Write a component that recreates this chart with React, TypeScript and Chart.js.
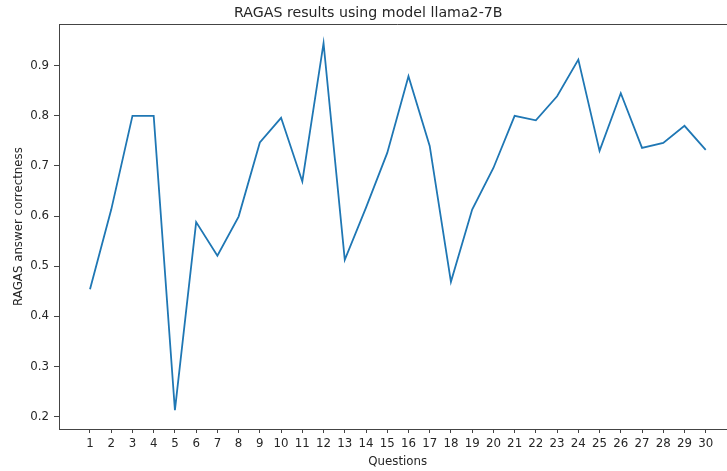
import React, { useEffect, useRef } from "react";
import { Chart, registerables } from "chart.js";

Chart.register(...registerables);

const questions: number[] = [1,2,3,4,5,6,7,8,9,10,11,12,13,14,15,16,17,18,19,20,21,22,23,24,25,26,27,28,29,30];
const correctness: number[] = [
  0.454, 0.613, 0.800, 0.800, 0.213, 0.588, 0.521, 0.599, 0.747, 0.796,
  0.669, 0.945, 0.513, 0.617, 0.726, 0.879, 0.740, 0.469, 0.613, 0.696,
  0.800, 0.791, 0.839, 0.912, 0.730, 0.845, 0.736, 0.746, 0.780, 0.732,
];
const yTicks: number[] = [0.2, 0.3, 0.4, 0.5, 0.6, 0.7, 0.8, 0.9];
const xTicks: number[] = questions;

const TITLE = "RAGAS results using model llama2-7B";
const X_TITLE = "Questions";
const Y_TITLE = "RAGAS answer correctness";

const FONT = "'DejaVu Sans', Verdana, sans-serif";
const TEXT = "#262626";
const SPINE = "#444444";

const framePlugin = {
  id: "frameTop",
  afterDraw(chart: any) {
    const { ctx, chartArea } = chart;
    ctx.save();
    ctx.strokeStyle = SPINE;
    ctx.lineWidth = 1;
    ctx.beginPath();
    ctx.moveTo(chartArea.left, Math.round(chartArea.top) + 0.5);
    ctx.lineTo(chartArea.right, Math.round(chartArea.top) + 0.5);
    ctx.stroke();
    ctx.restore();
  },
};

export default function App() {
  const ref = useRef<HTMLCanvasElement | null>(null);

  useEffect(() => {
    if (!ref.current) return;
    const chart = new Chart(ref.current, {
      type: "line",
      data: {
        datasets: [
          {
            data: questions.map((q, i) => ({ x: q, y: correctness[i] })),
            borderColor: "#1f77b4",
            backgroundColor: "#1f77b4",
            borderWidth: 1.8,
            pointRadius: 0,
            tension: 0,
            fill: false,
          },
        ],
      },
      options: {
        animation: false,
        responsive: false,
        devicePixelRatio: 1,
        layout: { padding: { left: 0, right: 59.5, top: 0, bottom: 0 } },
        plugins: {
          legend: { display: false },
          tooltip: { enabled: false },
          title: {
            display: true,
            text: TITLE,
            color: TEXT,
            font: { family: FONT, size: 14.2, weight: "normal", lineHeight: 1.2 },
            padding: { top: 5, bottom: 2 },
          },
        },
        scales: {
          x: {
            type: "linear",
            min: -0.46,
            max: 31.45,
            afterBuildTicks: (scale: any) => {
              scale.ticks = xTicks.map((v) => ({ value: v }));
            },
            afterFit: (scale: any) => {
              scale.height = 42;
            },
            ticks: {
              color: TEXT,
              font: { family: FONT, size: 11.8, lineHeight: 1.2 },
              padding: 4,
              maxRotation: 0,
              autoSkip: false,
              callback: (v: any) => String(v),
            },
            grid: {
              display: true,
              drawOnChartArea: false,
              drawTicks: true,
              tickLength: 4,
              tickColor: SPINE,
              lineWidth: 1,
            },
            border: { display: true, color: SPINE, width: 1 },
            title: {
              display: true,
              text: X_TITLE,
              color: TEXT,
              font: { family: FONT, size: 11.8, lineHeight: 1.2 },
              padding: { top: 4, bottom: 2 },
            },
          },
          y: {
            type: "linear",
            min: 0.1755,
            max: 0.983,
            afterBuildTicks: (scale: any) => {
              scale.ticks = yTicks.map((v) => ({ value: v }));
            },
            afterFit: (scale: any) => {
              scale.width = 59;
            },
            ticks: {
              color: TEXT,
              font: { family: FONT, size: 11.8, lineHeight: 1.2 },
              padding: 5,
              callback: (v: any) => Number(v).toFixed(1),
            },
            grid: {
              display: true,
              drawOnChartArea: false,
              drawTicks: true,
              tickLength: 5,
              tickColor: SPINE,
              lineWidth: 1,
            },
            border: { display: true, color: SPINE, width: 1 },
            title: {
              display: true,
              text: Y_TITLE,
              color: TEXT,
              font: { family: FONT, size: 11.8, lineHeight: 1.2 },
              padding: { top: 12, bottom: 0 },
            },
          },
        },
      },
      plugins: [framePlugin],
    });
    return () => chart.destroy();
  }, []);

  return (
    <div
      style={{
        position: "absolute",
        left: 0,
        top: 0,
        width: 727,
        height: 471,
        overflow: "hidden",
        background: "#ffffff",
      }}
    >
      <canvas
        ref={ref}
        width={796}
        height={471}
        style={{ display: "block", width: 796, height: 471 }}
      />
    </div>
  );
}
